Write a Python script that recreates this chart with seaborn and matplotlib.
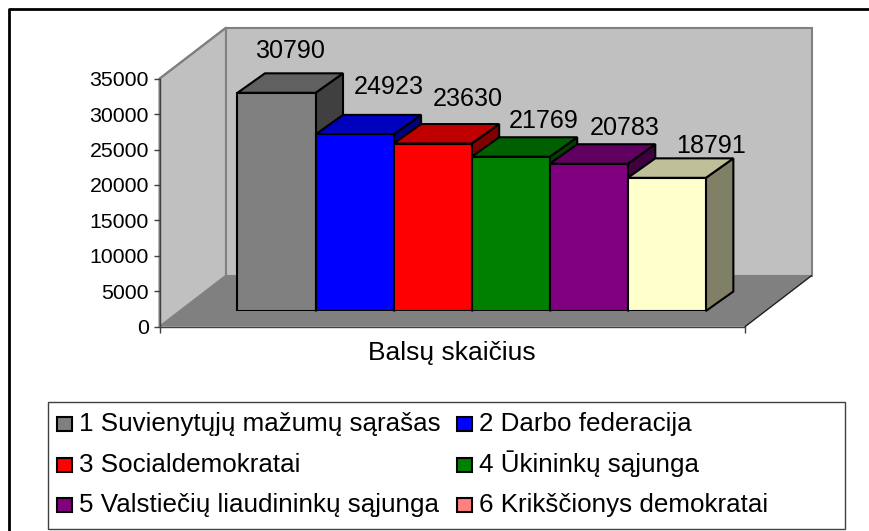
import matplotlib
matplotlib.use("Agg")
import matplotlib.pyplot as plt
import pandas as pd
import seaborn as sns
from matplotlib.patches import Polygon, Rectangle
from matplotlib.transforms import IdentityTransform

# duomenys
category = "Balsų skaičius"
parties = ["1 Suvienytųjų mažumų sąrašas", "2 Darbo federacija", "3 Socialdemokratai",
           "4 Ūkininkų sąjunga", "5 Valstiečių liaudininkų sąjunga", "6 Krikščionys demokratai"]
votes = [30790, 24923, 23630, 21769, 20783, 18791]
y_ticks = [0, 5000, 10000, 15000, 20000, 25000, 30000, 35000]
bar_colors = ["#808080", "#0000ff", "#ff0000", "#008000", "#800080", "#ffffcc"]
legend_colors = ["#808080", "#0000ff", "#ff0000", "#008000", "#800080", "#ff8080"]

# label nudges in pixels, from the bar's back top edge
label_dx = [0, 20, 21, 19, 22, 30]
label_dy = [22, 28, 25, 16, 16, 12]

W, H = 869, 531
df = pd.DataFrame({"cat": [category] * 6, "party": parties, "votes": votes})

sns.set_theme(style="white")
plt.rcParams["font.family"] = ["Liberation Sans", "DejaVu Sans"]

fig = plt.figure(figsize=(W / 100, H / 100), dpi=100)


def box(x0, y_top, x1, y_bot):
    return [x0 / W, 1 - y_bot / H, (x1 - x0) / W, (y_bot - y_top) / H]


# front plane of the axis
X0, X1, Y0, Y1 = 159.5, 745, 326.7, 78.7
WALL_DX, WALL_DY = 66.5, 51
ax = fig.add_axes(box(X0, Y1, X1, Y0))
ax.set_xlim(-0.5, 0.5)
ax.set_ylim(0, 35000)
ax.set_yticks(y_ticks)
ax.set_xticks([-0.5, 0.5])
ax.set_xticklabels(["", ""])
ax.tick_params(axis="both", length=4, width=1, color="#404040", pad=3.6, left=True, bottom=True)
ax.tick_params(axis="y", labelsize=15.3, labelcolor="black")
ax.patch.set_visible(False)
for s in ["top", "right"]:
    ax.spines[s].set_visible(False)
for s in ["left", "bottom"]:
    ax.spines[s].set_color("#404040")
    ax.spines[s].set_linewidth(1)
ax.text(0, -0.106, category, transform=ax.get_xaxis_transform(),
        ha="center", va="center", fontsize=19, color="black")

# walls and floor, pixel coordinates from the bottom left
px0, px1 = X0, X1
py0, py1 = H - Y0, H - Y1
idt = IdentityTransform()
fig.add_artist(Polygon([(px0, py0), (px0 + WALL_DX, py0 + WALL_DY), (px0 + WALL_DX, py1 + WALL_DY), (px0, py1)],
                       closed=True, fc="#c0c0c0", ec="#808080", lw=1.5, transform=idt, zorder=-3))
fig.add_artist(Polygon([(px0 + WALL_DX, py0 + WALL_DY), (px1 + WALL_DX, py0 + WALL_DY),
                        (px1 + WALL_DX, py1 + WALL_DY), (px0 + WALL_DX, py1 + WALL_DY)],
                       closed=True, fc="#c0c0c0", ec="#808080", lw=1.5, transform=idt, zorder=-3))
fig.add_artist(Polygon([(px0, py0), (px1, py0), (px1 + WALL_DX, py0 + WALL_DY), (px0 + WALL_DX, py0 + WALL_DY)],
                       closed=True, fc="#808080", ec="none", transform=idt, zorder=-2))
fig.add_artist(plt.Line2D([px1, px1 + WALL_DX], [py0, py0 + WALL_DY], color="#202020", lw=1, transform=idt, zorder=-1))
fig.add_artist(plt.Line2D([px0, px0 + WALL_DX], [py1, py1 + WALL_DY], color="#808080", lw=1.5, transform=idt, zorder=-1))

# bars sit forward of the back wall, so a second axes shifted along the depth
SHIFT_X, SHIFT_Y = 19.4, 15.7
bar_ax = fig.add_axes(box(X0 + SHIFT_X, Y1 - SHIFT_Y, X1 + SHIFT_X, Y0 - SHIFT_Y))
sns.barplot(data=df, x="cat", y="votes", hue="party", hue_order=parties, palette=bar_colors,
            width=0.8, gap=0, dodge=True, legend=False, edgecolor="black", linewidth=1.5, saturation=1, ax=bar_ax)
bar_ax.set_xlim(-0.5, 0.5)
bar_ax.set_ylim(0, 35000)
bar_ax.axis("off")
bar_ax.patch.set_visible(False)


def shade(color, k):
    r, g, b = matplotlib.colors.to_rgb(color)
    return (r * k, g * k, b * k)


DX, DY = 27.5, 19.5
patches = sorted(bar_ax.patches, key=lambda p: p.get_x())
fig.canvas.draw()
for i, p in enumerate(patches):
    bb = p.get_window_extent()
    xa, xb, ya, yb = bb.x0, bb.x1, bb.y0, bb.y1
    z = 3 + i
    col = bar_colors[i]
    p.set_zorder(z + 0.5)
    bar_ax.add_patch(Polygon([(xb, ya), (xb + DX, ya + DY), (xb + DX, yb + DY), (xb, yb)], closed=True,
                             fc=shade(col, 0.5), ec="black", lw=1.5, transform=idt, zorder=z, clip_on=False))
    bar_ax.add_patch(Polygon([(xa, yb), (xb, yb), (xb + DX, yb + DY), (xa + DX, yb + DY)], closed=True,
                             fc=shade(col, 0.75), ec="black", lw=1.5, transform=idt, zorder=z + 0.2, clip_on=False))
    fig.text((xa + xb) / 2 / W + (DX / 2 + label_dx[i]) / W, (yb + DY + label_dy[i]) / H, str(votes[i]),
             ha="center", va="center", fontsize=18.1, color="black", zorder=20)

# legend box, with the grey shade along right and bottom
LX0, LX1, LY0, LY1 = 47.5, 845, 401.5, 529
fig.add_artist(Rectangle((LX0 + 1, H - LY1 - 1), LX1 - LX0, LY1 - LY0, fc="#909090", ec="none", transform=idt, zorder=4))
fig.add_artist(Rectangle((LX0, H - LY1), LX1 - LX0, LY1 - LY0, fc="white", ec="#404040", lw=1, transform=idt, zorder=4))

# legend entries by hand: the macron of Ū pushes rows apart in fig.legend
COL_X = [57, 457]
ROW_BASE = [431, 472, 512]
for i, name in enumerate(parties):
    mx = COL_X[i % 2]
    base = ROW_BASE[i // 2]
    fig.add_artist(Rectangle((mx, H - base), 14.5, 14.5, fc=legend_colors[i], ec="black", lw=1.5, transform=idt, zorder=5))
    fig.text((mx + 22) / W, 1 - base / H, name, ha="left", va="baseline", fontsize=18.7, color="black", zorder=6)

# outer frame of the chart
fig.add_artist(plt.Line2D([9 / W, 9 / W, 1], [0, 1 - 8.5 / H, 1 - 8.5 / H], color="black", lw=2))

fig.savefig("out.png", dpi=100)
